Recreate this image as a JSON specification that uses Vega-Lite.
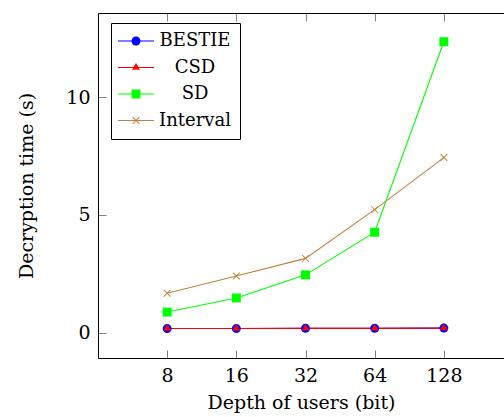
{
  "$schema": "https://vega.github.io/schema/vega-lite/v6.json",
  "width": 406,
  "height": 345,
  "autosize": "none",
  "padding": {"left": 98, "top": 13, "right": 0, "bottom": 59},
  "background": "white",
  "config": {
    "view": {"stroke": null},
    "font": "DejaVu Serif",
    "axis": {
      "domainColor": "black",
      "domainWidth": 1,
      "ticks": false,
      "gridColor": "#808080",
      "gridWidth": 1,
      "gridOpacity": 1,
      "labelFont": "DejaVu Serif",
      "labelFontSize": 19,
      "labelColor": "black",
      "titleFont": "DejaVu Serif",
      "titleFontSize": 19,
      "titleFontWeight": "normal",
      "titleColor": "black"
    }
  },
  "data": {
    "values": [
      {"series": "BESTIE", "depth": 8, "time": 0.17},
      {"series": "BESTIE", "depth": 16, "time": 0.17},
      {"series": "BESTIE", "depth": 32, "time": 0.18},
      {"series": "BESTIE", "depth": 64, "time": 0.18},
      {"series": "BESTIE", "depth": 128, "time": 0.19},
      {"series": "CSD", "depth": 8, "time": 0.17},
      {"series": "CSD", "depth": 16, "time": 0.17},
      {"series": "CSD", "depth": 32, "time": 0.18},
      {"series": "CSD", "depth": 64, "time": 0.18},
      {"series": "CSD", "depth": 128, "time": 0.19},
      {"series": "SD", "depth": 8, "time": 0.87},
      {"series": "SD", "depth": 16, "time": 1.47},
      {"series": "SD", "depth": 32, "time": 2.45},
      {"series": "SD", "depth": 64, "time": 4.26},
      {"series": "SD", "depth": 128, "time": 12.35},
      {"series": "Interval", "depth": 8, "time": 1.67},
      {"series": "Interval", "depth": 16, "time": 2.40},
      {"series": "Interval", "depth": 32, "time": 3.15},
      {"series": "Interval", "depth": 64, "time": 5.22},
      {"series": "Interval", "depth": 128, "time": 7.43}
    ]
  },
  "layer": [
    {
      "mark": {"type": "line", "strokeWidth": 1.1},
      "encoding": {
        "x": {
          "field": "depth", "type": "quantitative",
          "scale": {"type": "log", "base": 2, "domain": [4, 233.9], "nice": false},
          "axis": {"orient": "bottom", "values": [8, 16, 32, 64, 128], "title": "Depth of users (bit)", "labelPadding": 8, "titlePadding": 8, "grid": true, "gridDash": [8, 329, 8]}
        },
        "y": {
          "field": "time", "type": "quantitative",
          "scale": {"domain": [-1.08, 13.57], "nice": false, "zero": false},
          "axis": {"orient": "left", "values": [0, 5, 10], "title": "Decryption time (s)", "labelPadding": 8, "titlePadding": 29, "grid": true, "gridDash": [8, 1000]}
        },
        "stroke": {
          "field": "series", "type": "nominal",
          "scale": {"domain": ["BESTIE", "CSD", "SD", "Interval"], "range": ["#0000ff", "#ff0000", "#00ff00", "#bf8040"]},
          "legend": {
            "orient": "none",
            "legendX": 13,
            "legendY": 10,
            "title": null,
            "strokeColor": "black",
            "fillColor": "white",
            "padding": 9,
            "cornerRadius": 0,
            "symbolType": "M-4,0L4,0",
            "symbolSize": 81,
            "symbolStrokeWidth": 1.1,
            "symbolOffset": 7,
            "labelFont": "DejaVu Serif",
            "labelFontSize": 18,
            "labelColor": "black",
            "labelAlign": "center",
            "labelOffset": 50,
            "rowPadding": 8.5,
            "zindex": 1
          }
        }
      }
    },
    {
      "mark": {"type": "point", "filled": true, "size": 81, "opacity": 1, "strokeWidth": 0},
      "encoding": {
        "x": {
          "field": "depth", "type": "quantitative",
          "scale": {"type": "log", "base": 2, "domain": [4, 233.9], "nice": false},
          "axis": {"orient": "top", "values": [8, 16, 32, 64, 128], "labels": false, "title": null, "grid": false}
        },
        "y": {
          "field": "time", "type": "quantitative",
          "scale": {"domain": [-1.08, 13.57], "nice": false, "zero": false},
          "axis": null
        },
        "fill": {
          "field": "series", "type": "nominal", "sort": null,
          "scale": {"range": ["#0000ff", "#ff0000", "#00ff00", "#bf8040"]},
          "legend": {
            "orient": "none",
            "legendX": 13,
            "legendY": 10,
            "title": null,
            "padding": 9,
            "symbolSize": 81,
            "symbolStrokeWidth": 1.1,
            "symbolStrokeColor": "transparent",
            "symbolOffset": 7,
            "symbolOpacity": 1,
            "labelFont": "DejaVu Serif",
            "labelFontSize": 18,
            "labelOpacity": 0,
            "labelAlign": "center",
            "labelOffset": 50,
            "rowPadding": 8.5,
            "zindex": 2
          }
        },
        "shape": {
          "field": "series", "type": "nominal", "sort": null,
          "scale": {
            "range": [
              "circle",
              "M0,-1L0.866,0.5L-0.866,0.5Z",
              "square",
              "M-0.672,-0.828L0.828,0.672L0.672,0.828L-0.828,-0.672ZM-0.828,0.672L0.672,-0.828L0.828,-0.672L-0.672,0.828Z"
            ]
          },
          "legend": {
            "orient": "none",
            "legendX": 13,
            "legendY": 10,
            "title": null,
            "padding": 9,
            "symbolSize": 81,
            "symbolStrokeWidth": 1.1,
            "symbolStrokeColor": "transparent",
            "symbolOffset": 7,
            "symbolOpacity": 1,
            "labelFont": "DejaVu Serif",
            "labelFontSize": 18,
            "labelOpacity": 0,
            "labelAlign": "center",
            "labelOffset": 50,
            "rowPadding": 8.5,
            "zindex": 2
          }
        }
      }
    }
  ],
  "resolve": {"axis": {"x": "independent", "y": "independent"}}
}
